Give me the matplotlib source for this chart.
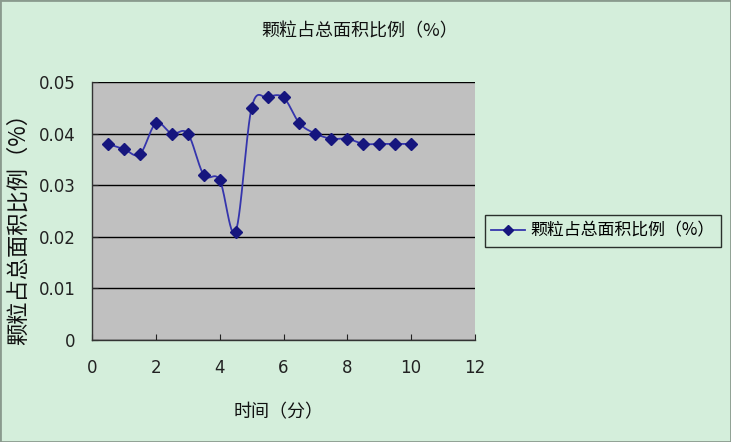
import numpy as np
import matplotlib
matplotlib.use("Agg")
import matplotlib.pyplot as plt
from matplotlib.lines import Line2D
from matplotlib.patches import Rectangle

plt.rcParams['font.family'] = ['Noto Sans CJK SC', 'DejaVu Sans']

# ---- data ----
times = [0.5, 1, 1.5, 2, 2.5, 3, 3.5, 4, 4.5, 5, 5.5, 6, 6.5, 7, 7.5, 8, 8.5, 9, 9.5, 10]
ratio = [0.038, 0.037, 0.036, 0.042, 0.040, 0.040, 0.032, 0.031, 0.021, 0.045,
         0.047, 0.047, 0.042, 0.040, 0.039, 0.039, 0.038, 0.038, 0.038, 0.038]
x_ticks = [0, 2, 4, 6, 8, 10, 12]
y_ticks = [0, 0.01, 0.02, 0.03, 0.04, 0.05]
y_tick_labels = ['0', '0.01', '0.02', '0.03', '0.04', '0.05']
title = '颗粒占总面积比例（%）'
xlabel = '时间（分）'
ylabel = '颗粒占总面积比例（%）'
series_name = '颗粒占总面积比例（%）'

BG = '#d4eedb'
PLOT_BG = '#c0c0c0'
LINE = '#3535ad'
MARK = '#16167e'
TICK_FONT = ['DejaVu Sans']
TICK_SIZE = 12


def smooth(xs, ys, n=30):
    """Excel-like smoothed line: Catmull-Rom style Bezier through points."""
    xs = np.asarray(xs, float)
    ys = np.asarray(ys, float)
    px = np.concatenate([[xs[0]], xs, [xs[-1]]])
    py = np.concatenate([[ys[0]], ys, [ys[-1]]])
    out_x, out_y = [], []
    t = np.linspace(0, 1, n)
    for i in range(1, len(px) - 2):
        p0 = np.array([px[i - 1], py[i - 1]])
        p1 = np.array([px[i], py[i]])
        p2 = np.array([px[i + 1], py[i + 1]])
        p3 = np.array([px[i + 2], py[i + 2]])
        c1 = p1 + (p2 - p0) / 6.0
        c2 = p2 - (p3 - p1) / 6.0
        b = ((1 - t) ** 3)[:, None] * p1 + (3 * (1 - t) ** 2 * t)[:, None] * c1 \
            + (3 * (1 - t) * t ** 2)[:, None] * c2 + (t ** 3)[:, None] * p2
        out_x.extend(b[:, 0])
        out_y.extend(b[:, 1])
    return out_x, out_y


fig = plt.figure(figsize=(7.31, 4.42), dpi=100, facecolor=BG)
fig.patches.append(Rectangle((0, 0), 1, 1, transform=fig.transFigure,
                             facecolor='none', edgecolor='#8a9a8e', lw=2.0))
ax = fig.add_axes([0.1259, 0.2308, 0.5239, 0.5837])
ax.set_facecolor(PLOT_BG)

sx, sy = smooth(times, ratio)
ax.plot(sx, sy, color=LINE, lw=1.3, zorder=3)
ax.plot(times, ratio, ls='none', marker='D', ms=6, color=MARK, zorder=4)

ax.set_xlim(0, 12)
ax.set_ylim(0, 0.05)
ax.set_xticks(x_ticks)
ax.set_xticklabels([str(v) for v in x_ticks])
ax.set_yticks(y_ticks)
ax.set_yticklabels(y_tick_labels)
ax.tick_params(axis='both', direction='in', length=4, labelsize=TICK_SIZE,
               colors='#222222')
ax.tick_params(axis='x', pad=14)
ax.tick_params(axis='y', pad=12)
for lab in ax.get_xticklabels() + ax.get_yticklabels():
    lab.set_family(TICK_FONT)
ax.yaxis.grid(True, color='black', lw=1.0)
ax.set_axisbelow(True)
for s in ['top', 'right']:
    ax.spines[s].set_visible(False)
for s in ['left', 'bottom']:
    ax.spines[s].set_color('#333333')
    ax.spines[s].set_linewidth(1.0)

fig.text(0.492, 0.930, title, ha='center', va='center', fontsize=13, color='#111111')
fig.text(0.381, 0.068, xlabel, ha='center', va='center', fontsize=13, color='#111111')
fig.text(0.025, 0.495, ylabel, ha='center', va='center', fontsize=16,
         rotation=90, color='#111111')

handle = Line2D([0], [0], color=LINE, lw=1.3, marker='D', ms=5,
                markerfacecolor=MARK, markeredgecolor=MARK)
leg = fig.legend([handle], [series_name], loc='center left',
                 bbox_to_anchor=(0.663, 0.478), frameon=True, fancybox=False,
                 fontsize=12.2, handlelength=2.0, borderpad=0.4,
                 handletextpad=0.3, borderaxespad=0.0)
leg.get_frame().set_edgecolor('black')
leg.get_frame().set_facecolor(BG)
leg.get_frame().set_linewidth(1.0)

fig.savefig('out.png', dpi=100, facecolor=BG)
